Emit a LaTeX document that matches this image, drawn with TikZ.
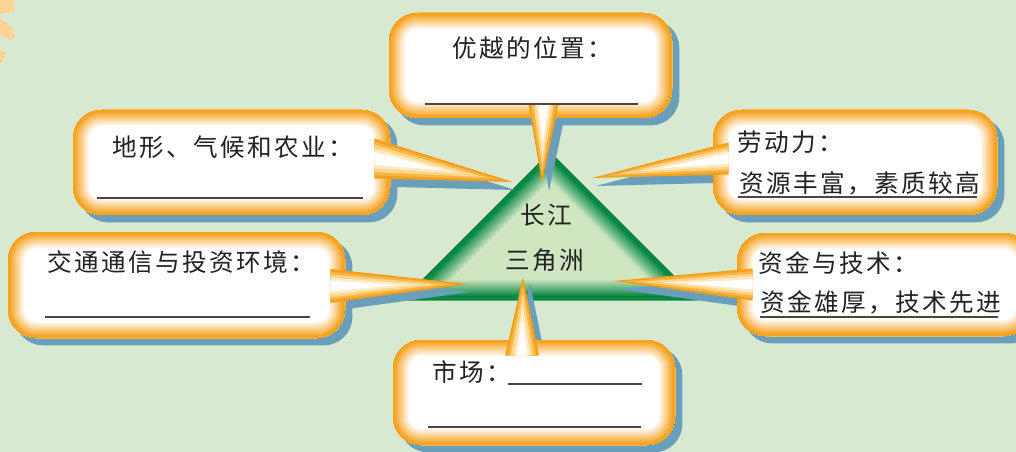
\documentclass[tikz,border=0pt]{standalone}
\usepackage{fontspec}
\usepackage{tikz}
\usetikzlibrary{calc,fit}
\newfontfamily\cjk[LetterSpace=10]{Noto Sans CJK SC}
\newcommand{\zh}{\cjk\fontsize{17.5pt}{20pt}\selectfont}
\definecolor{bggreen}{HTML}{D7E9D1}
\definecolor{shadowblue}{HTML}{6A9FBB}
\definecolor{glowout}{HTML}{F6A01A}
\definecolor{tailmid}{HTML}{FFD58A}
\definecolor{trigreen}{HTML}{00843C}
\definecolor{trilight}{HTML}{CFE6C1}
\definecolor{deco}{HTML}{FFD596}
\definecolor{inkgray}{HTML}{222222}
\definecolor{linegray}{HTML}{4F453D}
\pgfdeclarelayer{tri}
\pgfdeclarelayer{shade}
\pgfsetlayers{tri,shade,main}

\begin{document}
\begin{tikzpicture}[x=0.025cm, y=-0.025cm, callbox/.style={fill=white, rounded corners=20pt, inner sep=0pt, path picture={\foreach \i [evaluate=\i as \w using 24-\i, evaluate=\i as \c using 4.6*\i] in {0,...,21} \draw[line width=\w pt, draw=glowout!\c!white, rounded corners=20pt] (path picture bounding box.south west) rectangle (path picture bounding box.north east);}}, lbl/.style={font=\zh, text=inkgray, inner sep=0pt, anchor=west}, blank/.style={draw=linegray, line width=1.1pt}]
\useasboundingbox (0,0) rectangle (1016,452);
% background, corner decoration and the delta triangle
\begin{pgfonlayer}{tri}
\fill[bggreen] (0,0) rectangle (1016,452);
\fill[deco] (0,0) -- (14,0) -- (14,12) -- (0,14) -- cycle;
\fill[deco] (0,18) -- (13,28) -- (15,37) -- (11,40) -- (0,35) -- cycle;
\fill[deco] (0,50) -- (6,53) -- (2,63) -- (0,63) -- cycle;
\coordinate (apex) at (550,152); \coordinate (bl) at (402,300); \coordinate (br) at (698,300);
\fill[trilight] (apex) -- (bl) -- (br) -- cycle;
\begin{scope}
\clip (apex) -- (bl) -- (br) -- cycle;
\foreach \i [evaluate=\i as \w using 30-1.5*\i, evaluate=\i as \c using 6*\i] in {0,...,16} \draw[line width=\w pt, draw=trigreen!\c!trilight] (apex) -- (bl) -- (br) -- cycle;
\end{scope}
\end{pgfonlayer}
% callout boxes
\node[callbox, fit={(389,13) (672,118)}] (T) {};
\node[callbox, fit={(73,110) (390,215)}] (L1) {};
\node[callbox, fit={(8,232) (345,338)}] (L2) {};
\node[callbox, fit={(713,110) (997,215)}] (R1) {};
\node[callbox, fit={(737,233) (1032,336)}] (R2) {};
\node[callbox, fit={(393,340) (675,445)}] (B) {};
% tails pointing at the triangle
\coordinate (T-a) at ($(T.south)+(-2,-14)$); \coordinate (T-b) at ($(T.south)+(28,-14)$); \coordinate (T-tip) at (542,183);
\coordinate (L1-a) at ($(L1.east)+(-16,-24)$); \coordinate (L1-b) at ($(L1.east)+(-16,16)$); \coordinate (L1-tip) at (513,182);
\coordinate (L2-a) at ($(L2.east)+(-15,-16)$); \coordinate (L2-b) at ($(L2.east)+(-15,18)$); \coordinate (L2-tip) at (468,284);
\coordinate (R1-a) at ($(R1.west)+(16,-20)$); \coordinate (R1-b) at ($(R1.west)+(16,12)$); \coordinate (R1-tip) at (592,178);
\coordinate (R2-a) at ($(R2.west)+(16,-16)$); \coordinate (R2-b) at ($(R2.west)+(16,16)$); \coordinate (R2-tip) at (613,281);
\coordinate (B-a) at ($(B.north)+(-29,16)$); \coordinate (B-b) at ($(B.north)+(5,16)$); \coordinate (B-tip) at (523,277);
% shadows
\begin{pgfonlayer}{shade}
\foreach \n in {T,L1,L2,R1,R2,B} \fill[shadowblue, rounded corners=20pt] ($(\n.north west)+(7,7)$) rectangle ($(\n.south east)+(7,7)$);
\foreach \n/\dx/\dy in {T/7/8,L1/2/8,L2/2/8,R1/4/8,R2/4/8,B/7/6} \fill[shadowblue] ($(\n-a)+(\dx,\dy)$) -- ($(\n-tip)+(\dx,\dy)$) -- ($(\n-b)+(\dx,\dy)$) -- cycle;
\end{pgfonlayer}
\foreach \n in {T,L1,L2,R1,R2,B} {
  \fill[glowout] (\n-a) -- (\n-tip) -- (\n-b) -- cycle;
  \fill[glowout!60!tailmid] ($(\n-a)!0.08!(\n-b)$) -- ($(\n-a)!0.5!(\n-b)!0.9!(\n-tip)$) -- ($(\n-a)!0.92!(\n-b)$) -- cycle;
  \fill[tailmid] ($(\n-a)!0.16!(\n-b)$) -- ($(\n-a)!0.5!(\n-b)!0.8!(\n-tip)$) -- ($(\n-a)!0.84!(\n-b)$) -- cycle;
  \fill[tailmid!50!white] ($(\n-a)!0.25!(\n-b)$) -- ($(\n-a)!0.5!(\n-b)!0.65!(\n-tip)$) -- ($(\n-a)!0.75!(\n-b)$) -- cycle;
  \fill[white] ($(\n-a)!0.34!(\n-b)$) -- ($(\n-a)!0.5!(\n-b)!0.5!(\n-tip)$) -- ($(\n-a)!0.66!(\n-b)$) -- cycle;
}
% texts
\node[lbl] (tT) at (452,48) {优越的位置：};
\node[lbl] (tL1) at (112,147) {地形、气候和农业：};
\node[lbl] (tL2) at (47,262) {交通通信与投资环境：};
\node[lbl] (tR1) at (737,142) {劳动力：};
\node[lbl] (aR1) at (739,183) {资源丰富，素质较高};
\node[lbl] (tR2) at (758,263) {资金与技术：};
\node[lbl] (aR2) at (760,302) {资金雄厚，技术先进};
\node[lbl] (tB) at (432,372) {市场：};
\node[lbl, anchor=center] (cj) at (546,215) {长江};
\node[lbl, anchor=center] (sjz) at (545,260) {三角洲};
% answer lines
\draw[blank] (425,104) -- (638,104); \draw[blank] (97,198) -- (363,198); \draw[blank] (45,317) -- (310,317); \draw[blank] (738,197) -- (977,197); \draw[blank] (760,317) -- (998,317); \draw[blank] (508,384) -- (642,384); \draw[blank] (428,427) -- (641,427);
\end{tikzpicture}
\end{document}
